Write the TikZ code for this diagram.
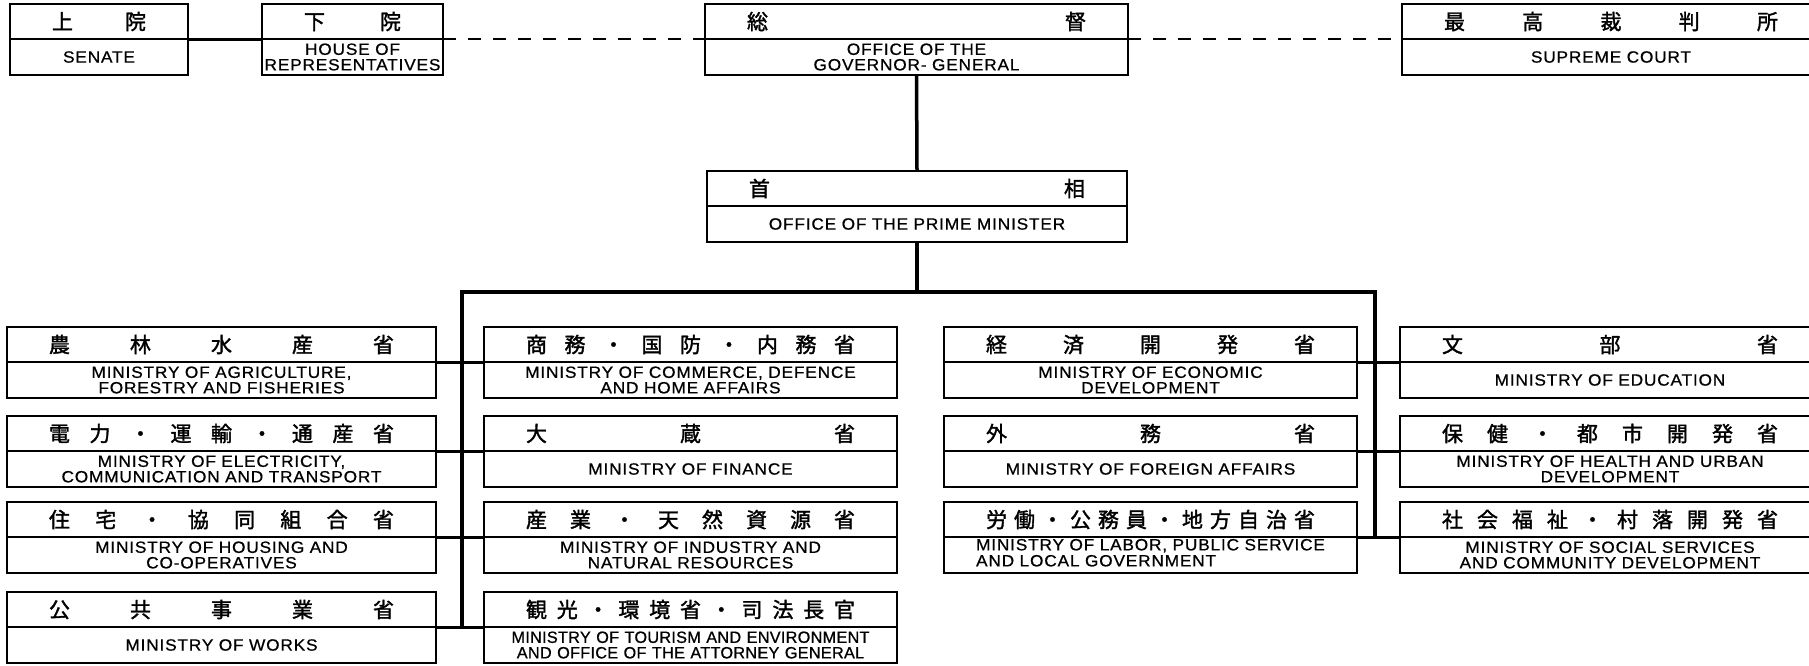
\documentclass[tikz,border=0pt]{standalone}
\usepackage{fontspec}
\setmainfont{Liberation Sans}[FakeStretch=1.06,LetterSpace=5,FakeBold=0.7]
\newfontfamily\jpfont{Noto Sans CJK JP}[FakeBold=1.6]
\newfontfamily\narrowfont{Liberation Sans}[LetterSpace=1.5,FakeBold=0.7]
\usepackage{tikz}
\usetikzlibrary{positioning}
\makeatletter
\newcommand{\spread}[1]{\def\spreadsep{}\@tfor\spreadchar:=#1\do{\spreadsep\spreadchar\def\spreadsep{\hfill}}}
\makeatother
\newcommand{\jpmargin}{42pt}
\tikzset{
    common/.style={inner sep=0pt, outer sep=0pt},
    jp/.style={common, anchor=north west, minimum height=35pt, font=\jpfont\fontsize{21}{21}\selectfont},
    en/.style={common, minimum height=36pt, align=center, font=\fontsize{16.3}{15.5}\selectfont},
    frame/.style={draw, line width=2pt},
    divider/.style={draw, line width=1.1pt},
    link/.style={line width=3pt},
    trunk/.style={line width=3.5pt},
    dashlink/.style={line width=1.5pt, dash pattern=on 13pt off 12pt}
}
\newcommand{\office}[5]{%
    \node[jp, minimum width=#3pt] (#1) at (#2) {\makebox[\dimexpr #3pt-\jpmargin*2\relax]{\spread{#4}}};
    \node[en, text width=#3pt, below=0pt of #1] (#1E) {#5};
    \draw[frame] (#1.north west) rectangle (#1E.south east);
    \draw[divider] (#1E.north west) -- (#1E.north east);
}

\begin{document}
\begin{tikzpicture}[x=1pt, y=-1pt]
    \useasboundingbox (0,0) rectangle (1809,665);

    \office{sen}{10,4}{178}{上院}{SENATE}
    \office{hou}{262,4}{181}{下院}{HOUSE OF\\REPRESENTATIVES}
    \office{gov}{705,4}{423}{総督}{OFFICE OF THE\\GOVERNOR- GENERAL}
    \office{sup}{1402,4}{418}{最高裁判所}{SUPREME COURT}
    \office{pm}{707,171}{420}{首相}{OFFICE OF THE PRIME MINISTER}

    \office{agr}{7,327}{429}{農林水産省}{MINISTRY OF AGRICULTURE,\\FORESTRY AND FISHERIES}
    \office{ele}{7,416}{429}{電力・運輸・通産省}{MINISTRY OF ELECTRICITY,\\COMMUNICATION AND TRANSPORT}
    \office{hsg}{7,502}{429}{住宅・協同組合省}{MINISTRY OF HOUSING AND\\CO-OPERATIVES}
    \office{wrk}{7,592}{429}{公共事業省}{MINISTRY OF WORKS}

    \office{com}{484,327}{413}{商務・国防・内務省}{MINISTRY OF COMMERCE, DEFENCE\\AND HOME AFFAIRS}
    \office{fin}{484,416}{413}{大蔵省}{MINISTRY OF FINANCE}
    \office{ind}{484,502}{413}{産業・天然資源省}{MINISTRY OF INDUSTRY AND\\NATURAL RESOURCES}
    \office{tou}{484,592}{413}{観光・環境省・司法長官}{\narrowfont MINISTRY OF TOURISM AND ENVIRONMENT\\AND OFFICE OF THE ATTORNEY GENERAL}

    \office{eco}{944,327}{413}{経済開発省}{MINISTRY OF ECONOMIC\\DEVELOPMENT}
    \office{frn}{944,416}{413}{外務省}{MINISTRY OF FOREIGN AFFAIRS}
    \office{lab}{944,502}{413}{労働・公務員・地方自治省}{\begin{tabular}{@{}l@{}}MINISTRY OF LABOR, PUBLIC SERVICE\\AND LOCAL GOVERNMENT\end{tabular}}

    \office{edu}{1400,327}{420}{文部省}{MINISTRY OF EDUCATION}
    \office{hlt}{1400,416}{420}{保健・都市開発省}{MINISTRY OF HEALTH AND URBAN\\DEVELOPMENT}
    \office{soc}{1400,502}{420}{社会福祉・村落開発省}{MINISTRY OF SOCIAL SERVICES\\AND COMMUNITY DEVELOPMENT}

    \coordinate (busL) at (462,292);
    \coordinate (busR) at (1375,292);

    \draw[link] (senE.north east) -- (houE.north west);
    \draw[dashlink] (houE.north east) -- (govE.north west) (govE.north east) -- (supE.north west);
    \draw[trunk] (govE.south) -- (pm.north);
    \draw[trunk] (pmE.south) -- (pmE.south |- busL);
    \draw[trunk] (wrkE.north -| busL) -- (busL) -- (busR) -- (labE.north -| busR);
    \foreach \a/\b in {agr/com, ele/fin, hsg/ind, wrk/tou, eco/edu, frn/hlt, lab/soc}
        \draw[link] (\a E.north east) -- (\b E.north west);
\end{tikzpicture}
\end{document}
